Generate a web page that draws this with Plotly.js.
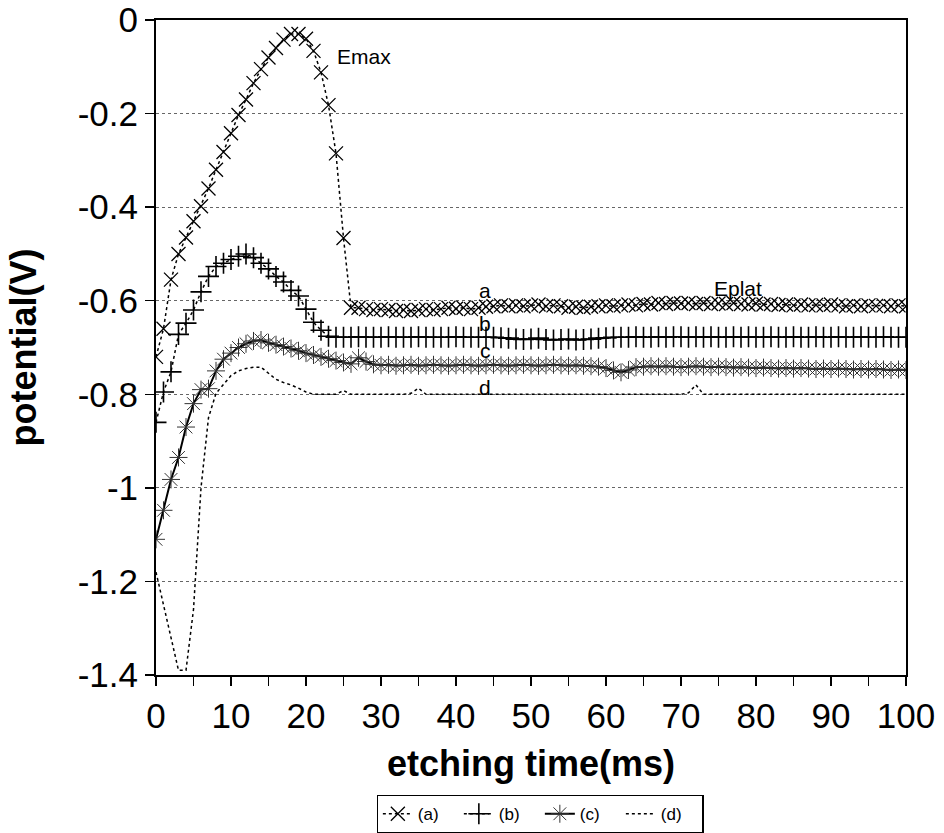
<!DOCTYPE html>
<html>
<head>
<meta charset="utf-8">
<script src="https://cdn.plot.ly/plotly-3.0.1.min.js"></script>
<style>
html,body{margin:0;padding:0;background:#fff;}
#chart{width:944px;height:833px;}
</style>
</head>
<body>
<div id="chart"></div>
<script>
// etching time (ms)
const time = Array.from({length: 101}, (_, i) => i);

// (a) potential (V)
const seriesA = [
  -0.72, -0.66, -0.555, -0.50, -0.465, -0.43, -0.398, -0.36, -0.32, -0.282,
  -0.242, -0.203, -0.17, -0.135, -0.105, -0.08, -0.06, -0.042, -0.03, -0.03,
  -0.04, -0.066, -0.112, -0.182, -0.285, -0.466, -0.615, -0.615, -0.618, -0.62,
  -0.618, -0.62, -0.622, -0.62, -0.622, -0.62, -0.618, -0.62, -0.618, -0.615,
  -0.617, -0.615, -0.618, -0.615, -0.613, -0.612, -0.61, -0.612, -0.61, -0.612,
  -0.61, -0.608, -0.612, -0.61, -0.612, -0.615, -0.613, -0.615, -0.613, -0.612,
  -0.61, -0.612, -0.61, -0.608, -0.61, -0.607, -0.608, -0.605, -0.607, -0.605,
  -0.606, -0.605, -0.607, -0.605, -0.607, -0.606, -0.607, -0.605, -0.607, -0.608,
  -0.606, -0.608, -0.607, -0.609, -0.608, -0.61, -0.608, -0.61, -0.609, -0.61,
  -0.608, -0.61, -0.612, -0.61, -0.612, -0.61, -0.611, -0.61, -0.612, -0.61,
  -0.612
];

// (b) potential (V)
const seriesB = [
  -0.86, -0.795, -0.752, -0.672, -0.648, -0.62, -0.581, -0.548, -0.527, -0.52,
  -0.512, -0.505, -0.50, -0.508, -0.52, -0.532, -0.548, -0.56, -0.578, -0.59,
  -0.618, -0.646, -0.663, -0.676, -0.678, -0.678, -0.678, -0.677, -0.678, -0.678,
  -0.678, -0.677, -0.678, -0.678, -0.678, -0.677, -0.678, -0.678, -0.678, -0.678,
  -0.677, -0.678, -0.678, -0.678, -0.678, -0.678, -0.679, -0.68, -0.682, -0.683,
  -0.682, -0.68, -0.683, -0.684, -0.683, -0.682, -0.684, -0.683, -0.682, -0.68,
  -0.679, -0.678, -0.678, -0.678, -0.677, -0.678, -0.678, -0.677, -0.678, -0.677,
  -0.677, -0.678, -0.677, -0.678, -0.677, -0.678, -0.678, -0.677, -0.678, -0.677,
  -0.678, -0.678, -0.677, -0.678, -0.678, -0.677, -0.678, -0.678, -0.677, -0.678,
  -0.678, -0.677, -0.678, -0.678, -0.677, -0.678, -0.678, -0.677, -0.678, -0.678,
  -0.678
];

// (c) potential (V)
const seriesC = [
  -1.11, -1.048, -0.982, -0.935, -0.87, -0.82, -0.79, -0.788, -0.75, -0.725,
  -0.712, -0.70, -0.692, -0.686, -0.684, -0.69, -0.694, -0.698, -0.702, -0.707,
  -0.712, -0.716, -0.72, -0.724, -0.728, -0.732, -0.735, -0.722, -0.73, -0.736,
  -0.738, -0.737, -0.739, -0.738, -0.737, -0.739, -0.738, -0.737, -0.738, -0.739,
  -0.738, -0.737, -0.738, -0.739, -0.738, -0.737, -0.738, -0.739, -0.738, -0.737,
  -0.738, -0.739, -0.738, -0.737, -0.738, -0.739, -0.738, -0.739, -0.74, -0.741,
  -0.744, -0.749, -0.753, -0.748, -0.742, -0.741, -0.74, -0.741, -0.74, -0.741,
  -0.742, -0.741, -0.74, -0.741, -0.742, -0.741, -0.742, -0.743, -0.742, -0.743,
  -0.744, -0.743, -0.744, -0.745, -0.744, -0.745, -0.744, -0.745, -0.746, -0.745,
  -0.746, -0.745, -0.746, -0.747, -0.746, -0.747, -0.746, -0.747, -0.748, -0.747,
  -0.748
];

// (d) potential (V)
const seriesD = [
  -1.18, -1.25, -1.32, -1.39, -1.39, -1.26, -1.0, -0.85, -0.798, -0.78,
  -0.76, -0.75, -0.745, -0.742, -0.742, -0.755, -0.768, -0.775, -0.78, -0.787,
  -0.795, -0.80, -0.80, -0.80, -0.80, -0.792, -0.80, -0.80, -0.80, -0.80,
  -0.80, -0.80, -0.80, -0.80, -0.798, -0.787, -0.80, -0.80, -0.80, -0.80,
  -0.80, -0.80, -0.80, -0.80, -0.80, -0.80, -0.80, -0.80, -0.80, -0.80,
  -0.80, -0.80, -0.80, -0.80, -0.80, -0.80, -0.80, -0.80, -0.80, -0.80,
  -0.80, -0.80, -0.80, -0.80, -0.80, -0.80, -0.80, -0.80, -0.80, -0.80,
  -0.80, -0.797, -0.78, -0.80, -0.80, -0.80, -0.80, -0.80, -0.80, -0.80,
  -0.80, -0.80, -0.80, -0.80, -0.80, -0.80, -0.80, -0.80, -0.80, -0.80,
  -0.80, -0.80, -0.80, -0.80, -0.80, -0.80, -0.80, -0.80, -0.80, -0.80,
  -0.80
];

const seriesNames = ['(a)', '(b)', '(c)', '(d)'];
const curveLabels = ['a', 'b', 'c', 'd'];
const yTicks = [0, -0.2, -0.4, -0.6, -0.8, -1, -1.2, -1.4];
const yTickText = ['0', '-0.2', '-0.4', '-0.6', '-0.8', '-1', '-1.2', '-1.4'];

const FONT = 'Liberation Sans, Arial, Helvetica, sans-serif';

const traces = [
  {x: time, y: seriesA, name: seriesNames[0], mode: 'lines+markers',
   line: {color: '#000', width: 1.5, dash: 'dot'},
   marker: {symbol: 'x-thin-open', size: 14, color: '#000', line: {color: '#000', width: 1.3}}},
  {x: time, y: seriesB, name: seriesNames[1], mode: 'lines+markers',
   line: {color: '#000', width: 1.5, dash: 'dot'},
   marker: {symbol: 'cross-thin-open', size: 15, color: '#000', line: {color: '#000', width: 1.6}}},
  {x: time, y: seriesC, name: seriesNames[2], mode: 'lines+markers',
   line: {color: '#000', width: 2},
   marker: {symbol: 'asterisk-open', size: 15, color: '#333', line: {color: '#333', width: 1}}},
  {x: time, y: seriesD, name: seriesNames[3], mode: 'lines',
   line: {color: '#000', width: 1.5, dash: 'dot'}}
];

const annFont = {family: FONT, size: 21, color: '#000'};
const annotations = [
  {x: 23.9, y: -0.079, text: 'Emax', xanchor: 'left'},
  {x: 74.1, y: -0.573, text: 'Eplat', xanchor: 'left'},
  {x: 43.9, y: -0.578, text: curveLabels[0]},
  {x: 43.9, y: -0.648, text: curveLabels[1]},
  {x: 43.9, y: -0.706, text: curveLabels[2]},
  {x: 43.9, y: -0.785, text: curveLabels[3]},
  {x: -5.2, y: -0.744, text: 'Es'}
].map(a => Object.assign({xref: 'x', yref: 'y', showarrow: false, font: annFont, yanchor: 'middle'}, a));

const layout = {
  width: 944, height: 833,
  margin: {l: 156, r: 38, t: 20, b: 158},
  paper_bgcolor: '#fff', plot_bgcolor: '#fff',
  font: {family: FONT, color: '#000'},
  showlegend: true,
  legend: {
    orientation: 'h',
    xref: 'container', x: 0.399, xanchor: 'left',
    yref: 'container', y: 0.0456, yanchor: 'top',
    bordercolor: '#000', borderwidth: 1.2, bgcolor: '#fff',
    entrywidth: 36, entrywidthmode: 'pixels',
    font: {family: FONT, size: 17, color: '#000'}
  },
  xaxis: {
    range: [0, 100], dtick: 10, tick0: 0,
    showgrid: false, zeroline: false, automargin: false,
    showline: true, linecolor: '#000', linewidth: 2, mirror: true,
    ticks: 'outside', ticklen: 9, tickwidth: 1.5, tickcolor: '#000',
    minor: {dtick: 5, ticks: 'outside', ticklen: 9, tickwidth: 1.5, tickcolor: '#000', showgrid: false},
    tickfont: {family: FONT, size: 35, color: '#000'},
    title: {text: 'etching time(ms)', font: {family: FONT, size: 36, color: '#000', weight: 'bold'}, standoff: 17}
  },
  yaxis: {
    range: [-1.4, 0], tickvals: yTicks, ticktext: yTickText,
    showgrid: true, gridcolor: '#666', griddash: 'dot', gridwidth: 1,
    zeroline: false, automargin: false,
    showline: true, linecolor: '#000', linewidth: 2, mirror: true,
    ticks: 'outside', ticklen: 9, tickwidth: 1.5, tickcolor: '#000',
    tickfont: {family: FONT, size: 35, color: '#000'},
    title: {text: 'potential(V)', font: {family: FONT, size: 36, color: '#000', weight: 'bold'}, standoff: 30}
  },
  annotations: annotations
};

Plotly.newPlot('chart', traces, layout, {staticPlot: true, displayModeBar: false});
</script>
</body>
</html>
